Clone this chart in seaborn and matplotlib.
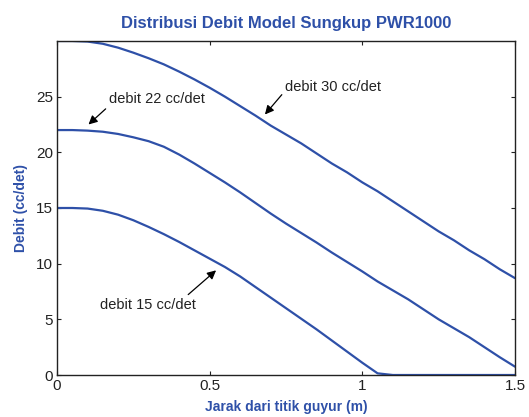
import numpy as np
import pandas as pd
import matplotlib
matplotlib.use("Agg")
import matplotlib.pyplot as plt
import seaborn as sns

# ---- data ----
jarak = [0.00, 0.05, 0.10, 0.15, 0.20, 0.25, 0.30, 0.35, 0.40, 0.45,
         0.50, 0.55, 0.60, 0.65, 0.70, 0.75, 0.80, 0.85, 0.90, 0.95,
         1.00, 1.05, 1.10, 1.15, 1.20, 1.25, 1.30, 1.35, 1.40, 1.45, 1.50]
debit_30 = [30.0, 30.0, 29.95, 29.75, 29.4, 28.95, 28.45, 27.9, 27.25, 26.55,
            25.8, 25.0, 24.15, 23.3, 22.4, 21.6, 20.8, 19.9, 19.0, 18.2,
            17.3, 16.5, 15.6, 14.7, 13.8, 12.9, 12.1, 11.2, 10.4, 9.5, 8.7]
debit_22 = [22.0, 22.0, 21.95, 21.85, 21.65, 21.35, 21.0, 20.5, 19.8, 19.0,
            18.15, 17.3, 16.4, 15.45, 14.5, 13.6, 12.75, 11.9, 11.0, 10.15,
            9.3, 8.4, 7.6, 6.8, 5.9, 5.0, 4.2, 3.4, 2.5, 1.6, 0.75]
debit_15 = [15.0, 15.0, 14.95, 14.75, 14.4, 13.9, 13.3, 12.65, 11.95, 11.2,
            10.45, 9.7, 8.85, 7.9, 6.95, 6.0, 5.05, 4.1, 3.1, 2.1,
            1.1, 0.15, 0.0, 0.0, 0.0, 0.0, 0.0, 0.0, 0.0, 0.0, 0.0]
series_names = ["debit 30 cc/det", "debit 22 cc/det", "debit 15 cc/det"]
x_ticks = [0, 0.5, 1, 1.5]
x_ticklabels = ["0", "0.5", "1", "1.5"]
y_ticks = [0, 5, 10, 15, 20, 25]

df = pd.concat([
    pd.DataFrame({"x": jarak, "y": debit_30, "s": series_names[0]}),
    pd.DataFrame({"x": jarak, "y": debit_22, "s": series_names[1]}),
    pd.DataFrame({"x": jarak, "y": debit_15, "s": series_names[2]}),
])

sns.set_style("ticks")
plt.rcParams["font.family"] = ["Liberation Sans", "DejaVu Sans"]

blue = "#2E50A8"
fig = plt.figure(figsize=(5.29, 4.17), dpi=100)
ax = fig.add_axes([0.1078, 0.1007, 0.8657, 0.8010])

sns.lineplot(data=df, x="x", y="y", hue="s", palette=[blue] * 3,
             linewidth=1.6, legend=False, ax=ax, sort=False)

ax.set_xlim(0, 1.5)
ax.set_ylim(0, 30)
ax.set_xticks(x_ticks)
ax.set_xticklabels(x_ticklabels)
ax.set_yticks(y_ticks)
ax.tick_params(direction="in", top=True, right=True, length=3,
               labelsize=11, colors="#222222", width=0.8, pad=3)
for sp in ax.spines.values():
    sp.set_color("#222222")
    sp.set_linewidth(1.0)

ax.set_title("Distribusi Debit Model Sungkup PWR1000", color=blue,
             fontsize=12, fontweight="bold", pad=9)
ax.set_xlabel("Jarak dari titik guyur (m)", color=blue, fontsize=10,
              fontweight="bold", labelpad=5)
ax.set_ylabel("Debit (cc/det)", color=blue, fontsize=10,
              fontweight="bold", labelpad=6)

arrow = dict(arrowstyle="-|>", color="black", lw=0.9, mutation_scale=13,
             shrinkA=0, shrinkB=0)
ax.annotate(series_names[0], xy=(0.681, 23.4), xytext=(0.747, 25.9),
            fontsize=10.5, color="#222222", va="center", ha="left",
            arrowprops=dict(arrow, relpos=(0, 0.2)))
ax.annotate(series_names[1], xy=(0.103, 22.5), xytext=(0.17, 24.8),
            fontsize=10.5, color="#222222", va="center", ha="left",
            arrowprops=dict(arrow, relpos=(0, 0.0)))
ax.annotate(series_names[2], xy=(0.521, 9.4), xytext=(0.141, 6.3),
            fontsize=10.5, color="#222222", va="center", ha="left",
            arrowprops=dict(arrow, relpos=(0.88, 1.0)))

fig.savefig("out.png", dpi=100)
